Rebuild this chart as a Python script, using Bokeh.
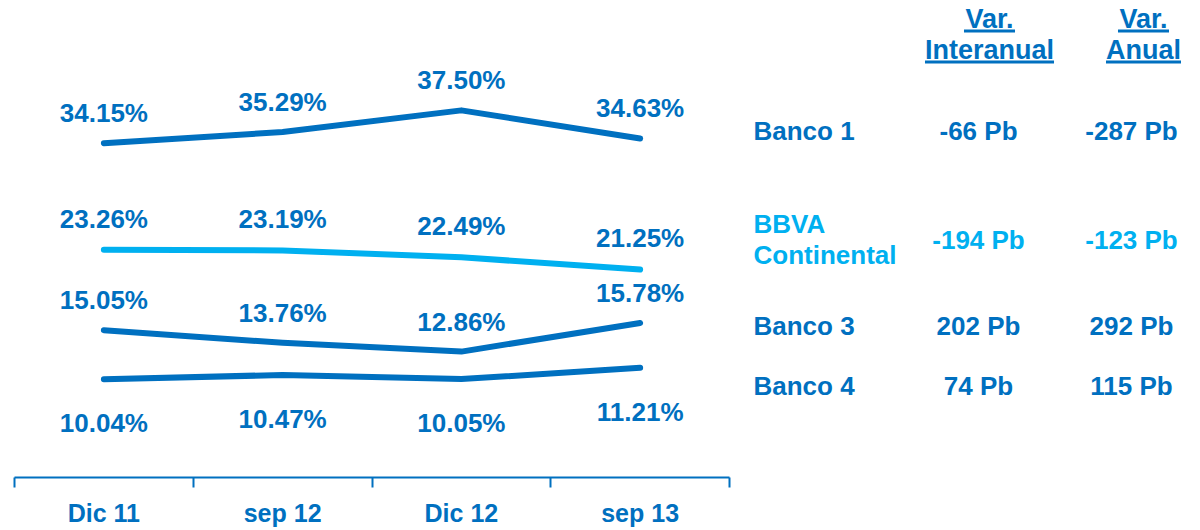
from bokeh.plotting import figure
from bokeh.models import ColumnDataSource, Range1d, FixedTicker
from bokeh.core.properties import value
from bokeh.embed import file_html
from bokeh.resources import INLINE

# ---------------- data ----------------
categories = ["Dic 11", "sep 12", "Dic 12", "sep 13"]
banco1 = [34.15, 35.29, 37.50, 34.63]
bbva = [23.26, 23.19, 22.49, 21.25]
banco3 = [15.05, 13.76, 12.86, 15.78]
banco4 = [10.04, 10.47, 10.05, 11.21]

row_names = ["Banco 1", "BBVA\nContinental", "Banco 3", "Banco 4"]
var_interanual = ["-66 Pb", "-194 Pb", "202 Pb", "74 Pb"]
var_anual = ["-287 Pb", "-123 Pb", "292 Pb", "115 Pb"]
headers = [["Var.", "Interanual"], ["Var.", "Anual"]]

# ---------------- style / layout ----------------
DARK = "#0070C0"
LIGHT = "#00B0F0"
FONT = value("Liberation Sans")
W, H = 1200, 530
AXIS_LEFT, AXIS_RIGHT, AXIS_Y = 14, 729, 477   # pixels
PX_PER_PCT = 9.79

series = [
    (banco1, DARK, -30),
    (bbva, LIGHT, -31),
    (banco3, DARK, -30),
    (banco4, DARK, 44),
]
row_colors = [DARK, LIGHT, DARK, DARK]

n = len(categories)
bw = (AXIS_RIGHT - AXIS_LEFT) / n
x_range = Range1d(-AXIS_LEFT / bw, (W - AXIS_LEFT) / bw)
y_range = Range1d(0, AXIS_Y / PX_PER_PCT)

p = figure(width=W, height=H, x_range=x_range, y_range=y_range,
           output_backend="svg", toolbar_location=None,
           x_axis_location="below", y_axis_location=None,
           min_border_left=0, min_border_right=0, min_border_top=0,
           min_border_bottom=H - AXIS_Y)
p.extra_x_ranges = {"px": Range1d(0, W)}
p.extra_y_ranges = {"px": Range1d(AXIS_Y, 0)}
p.outline_line_color = None
p.xgrid.visible = False
p.ygrid.visible = False

xs = [i + 0.5 for i in range(n)]
for vals, col, off in series:
    src = ColumnDataSource(dict(x=xs, y=vals, lab=[f"{v:.2f}%" for v in vals]))
    p.line("x", "y", source=src, line_width=6, line_color=col, line_cap="round",
           line_join="round")
    p.text("x", "y", text="lab", source=src, text_align="center",
           text_baseline="middle", y_offset=off, text_font=FONT,
           text_font_style="bold", text_font_size="26px", text_color=DARK)

ax = p.xaxis[0]
ax.bounds = (0, n)
ax.ticker = FixedTicker(ticks=xs, minor_ticks=list(range(n + 1)))
ax.major_label_overrides = {x: c for x, c in zip(xs, categories)}
ax.major_tick_line_color = None
ax.major_tick_out = 0
ax.major_tick_in = 0
ax.minor_tick_line_color = DARK
ax.minor_tick_line_width = 2
ax.minor_tick_out = 10
ax.minor_tick_in = 0
ax.axis_line_color = DARK
ax.axis_line_width = 2
ax.major_label_standoff = 11
ax.major_label_text_font = "Liberation Sans"
ax.major_label_text_font_style = "bold"
ax.major_label_text_font_size = "25px"
ax.major_label_text_color = DARK

# ---------------- table (pixel coordinates) ----------------
row_y = [130, 239, 325, 385]
tsrc = ColumnDataSource(dict(y=row_y, name=row_names, v1=var_interanual,
                             v2=var_anual, c=row_colors,
                             x0=[753] * 4, x1=[978] * 4, x2=[1131] * 4))
common = dict(source=tsrc, text_baseline="middle", text_font=FONT,
              text_font_style="bold", text_font_size="26px", text_color="c",
              x_range_name="px", y_range_name="px")
p.text("x0", "y", text="name", text_align="left", text_line_height=1.03, **common)
p.text("x1", "y", text="v1", text_align="center", **common)
p.text("x2", "y", text="v2", text_align="center", **common)

# headers with underline (approx. Arial Bold advance widths, em)
adv = {"V": .667, "a": .556, "r": .389, ".": .278, "I": .278, "n": .611,
       "t": .333, "e": .556, "u": .611, "l": .278, "A": .722}
hsize = 27
hx = [989, 1143]
hy = [18, 49]
for cx, lines in zip(hx, headers):
    for yy, txt in zip(hy, lines):
        p.text([cx], [yy], text=[txt], text_align="center", text_baseline="middle",
               text_font=FONT, text_font_style="bold",
               text_font_size=f"{hsize}px", text_color=DARK,
               x_range_name="px", y_range_name="px")
        w = sum(adv.get(ch, .556) for ch in txt) * hsize
        p.segment([cx - w / 2], [yy + 12.5], [cx + w / 2], [yy + 12.5],
                  line_color=DARK, line_width=3,
                  x_range_name="px", y_range_name="px")

open("out.html", "w").write(file_html(p, INLINE))
